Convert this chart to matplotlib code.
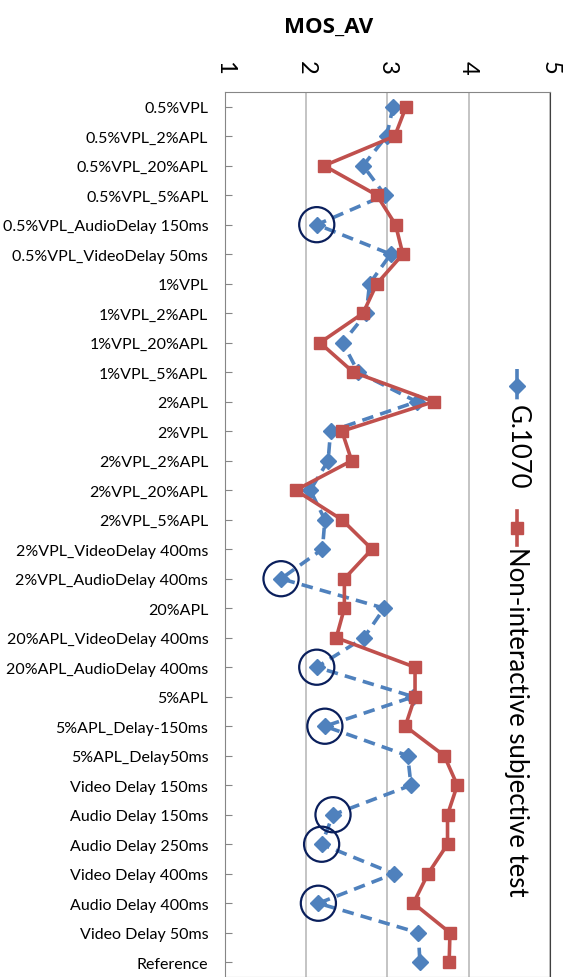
import numpy as np
import matplotlib.pyplot as plt
from matplotlib.lines import Line2D

plt.rcParams['font.family'] = ['Lato', 'DejaVu Sans']

# Test conditions (top to bottom)
conditions = [
    '0.5%VPL', '0.5%VPL_2%APL', '0.5%VPL_20%APL', '0.5%VPL_5%APL',
    '0.5%VPL_AudioDelay 150ms', '0.5%VPL_VideoDelay 50ms',
    '1%VPL', '1%VPL_2%APL', '1%VPL_20%APL', '1%VPL_5%APL',
    '2%APL', '2%VPL', '2%VPL_2%APL', '2%VPL_20%APL', '2%VPL_5%APL',
    '2%VPL_VideoDelay 400ms', '2%VPL_AudioDelay 400ms',
    '20%APL', '20%APL_VideoDelay 400ms', '20%APL_AudioDelay 400ms',
    '5%APL', '5%APL_Delay-150ms', '5%APL_Delay50ms',
    'Video Delay 150ms', 'Audio Delay 150ms', 'Audio Delay 250ms',
    'Video Delay 400ms', 'Audio Delay 400ms', 'Video Delay 50ms',
    'Reference',
]

# MOS_AV estimated by G.1070
g1070 = [3.07, 2.99, 2.70, 2.97, 2.13, 3.04, 2.78, 2.74, 2.45, 2.64,
         3.36, 2.30, 2.27, 2.05, 2.23, 2.20, 1.69, 2.96, 2.71, 2.13,
         3.32, 2.23, 3.25, 3.29, 2.33, 2.19, 3.08, 2.15, 3.38, 3.40]

# MOS_AV from the non-interactive subjective test
subjective = [3.23, 3.09, 2.22, 2.87, 3.10, 3.19, 2.87, 2.70, 2.17, 2.58,
              3.57, 2.44, 2.56, 1.87, 2.44, 2.81, 2.47, 2.47, 2.37, 3.34,
              3.34, 3.22, 3.70, 3.86, 3.74, 3.74, 3.50, 3.32, 3.77, 3.76]

# conditions where G.1070 is circled (audio delay cases)
circled = ['0.5%VPL_AudioDelay 150ms', '2%VPL_AudioDelay 400ms',
           '20%APL_AudioDelay 400ms', '5%APL_Delay-150ms',
           'Audio Delay 150ms', 'Audio Delay 250ms', 'Audio Delay 400ms']

blue = '#4F81BD'
red = '#C0504D'
navy = '#0A1F5C'
dash = (0, (3.2, 2.0))

fig = plt.figure(figsize=(5.71, 9.78), dpi=100)
ax = fig.add_axes([0.394, 0.0, 0.569, 0.905])

y = np.arange(len(conditions))
ax.plot(g1070, y, color=blue, lw=2.6, ls=dash, marker='D', ms=8, zorder=3)
ax.plot(subjective, y, color=red, lw=2.6, marker='s', ms=9, zorder=4)

ci = [conditions.index(c) for c in circled]
ax.scatter([g1070[i] for i in ci], ci, s=640, facecolors='none',
           edgecolors=navy, linewidths=1.6, zorder=5)

ax.set_xlim(1, 5)
ax.set_ylim(len(conditions) - 0.5, -0.5)
ax.set_xticks([1, 2, 3, 4, 5])
ax.xaxis.tick_top()
ax.tick_params(axis='x', length=0, pad=13, labelsize=17, labelrotation=-90)
ax.set_yticks(y)
ax.set_yticklabels(conditions, fontsize=11.5)
ax.tick_params(axis='y', direction='in', length=5, color='#868686', pad=12)
ax.grid(axis='x', color='#BFBFBF', lw=1.3)
ax.set_axisbelow(True)
for s in ['left', 'top', 'bottom']:
    ax.spines[s].set_color('#868686')
ax.spines['right'].set_color('#404040')

fig.text(0.575, 0.972, 'MOS_AV', ha='center', va='center',
         fontsize=16, fontweight='bold', family=['Open Sans', 'DejaVu Sans'])

# legend drawn vertically on the right
lx = 0.905
fig.add_artist(Line2D([lx, lx], [1 - 370 / 978, 1 - 404 / 978], color=blue,
                      lw=2.6, ls=dash, transform=fig.transFigure))
fig.add_artist(Line2D([lx], [1 - 387 / 978], color=blue, marker='D', ms=8,
                      transform=fig.transFigure))
fig.text(lx, 1 - 405 / 978, 'G.1070', rotation=-90, ha='center', va='top',
         fontsize=18.5)
fig.add_artist(Line2D([lx, lx], [1 - 512 / 978, 1 - 546 / 978], color=red,
                      lw=2.6, transform=fig.transFigure))
fig.add_artist(Line2D([lx], [1 - 529 / 978], color=red, marker='s', ms=9,
                      transform=fig.transFigure))
fig.text(lx, 1 - 547 / 978, 'Non-interactive subjective test', rotation=-90,
         ha='center', va='top', fontsize=18.5)

fig.savefig('out.png', dpi=100)
